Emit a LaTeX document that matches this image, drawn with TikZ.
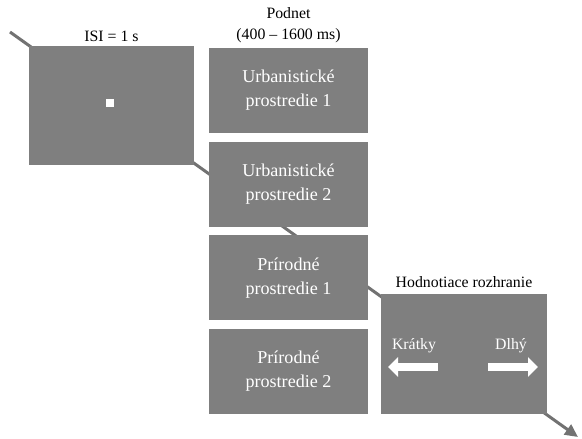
\documentclass[tikz,border=0pt]{standalone}
\usepackage{fontspec}
\setmainfont{Liberation Serif}
\usetikzlibrary{arrows.meta,positioning}
\definecolor{boxgray}{HTML}{7F7F7F}
\tikzset{
screenbox/.style={fill=boxgray, text=white, align=center, inner sep=0pt, minimum width=3.18cm, minimum height=1.7cm, font=\fontsize{10.3}{13.6}\selectfont},
toplabel/.style={align=center, inner sep=0pt, font=\fontsize{9}{12}\selectfont},
whitearrow/.style={white, line width=0.16cm, -{Triangle[length=0.2cm,width=0.38cm]}}
}
\begin{document}
\begin{tikzpicture}[x=0.02cm,y=-0.02cm]
\useasboundingbox (0,0) rectangle (582,439);

% time line behind the screens
\coordinate (t0) at (10,32);
\coordinate (t1) at (578,437);
\draw[boxgray!90!black, line width=0.06cm, -{Triangle[length=0.26cm,width=0.24cm]}] (t0) -- (t1);

% fixation screen
\node[screenbox, minimum width=3.3cm, minimum height=2.38cm] (isi) at (111.5,105.5) {};
\node[fill=white, minimum size=0.16cm, inner sep=0pt] (fix) at (110,103) {};
\node[toplabel, above=2.3pt of isi] (isilabel) {ISI = 1 s};

% stimuli
\node[screenbox] (s1) at (288.5,90.5) {Urbanistické\\prostredie 1};
\node[screenbox, below=0.16cm of s1] (s2) {Urbanistické\\prostredie 2};
\node[screenbox, below=0.16cm of s2] (s3) {Prírodné\\prostredie 1};
\node[screenbox, below=0.16cm of s3] (s4) {Prírodné\\prostredie 2};
\node[toplabel, above=2.5pt of s1] (stimlabel) {Podnet\\(400 – 1600 ms)};

% rating screen
\node[screenbox, minimum width=3.32cm, minimum height=2.4cm] (rating) at (464,354) {};
\node[toplabel, above=3pt of rating] (ratinglabel) {Hodnotiace rozhranie};
\node[toplabel, text=white, anchor=base] (short) at (414,349) {Krátky};
\node[toplabel, text=white, anchor=base] (long) at (511,349) {Dlhý};

\coordinate (k0) at (438,367);
\coordinate (k1) at (388,367);
\coordinate (d0) at (488,367);
\coordinate (d1) at (538,367);
\draw[whitearrow] (k0) -- (k1);
\draw[whitearrow] (d0) -- (d1);
\end{tikzpicture}
\end{document}
